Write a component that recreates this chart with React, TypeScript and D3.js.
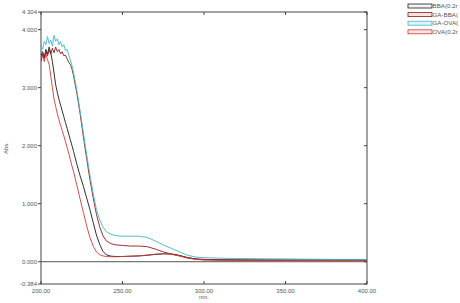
import React from "react";
import * as d3 from "d3";

const wavelengths = [200,201,202,203,204,205,206,207,208,209,210,211,212,213,214,215,216,217,218,219,220,222,224,226,228,230,232,234,236,238,240,243,246,250,255,260,265,270,275,280,285,290,295,300,310,320,340,360,380,400];

const bba = [3.55,3.62,3.52,3.66,3.58,3.70,3.60,3.45,3.25,3.05,2.92,2.80,2.70,2.60,2.50,2.40,2.30,2.20,2.10,2.00,1.90,1.68,1.48,1.30,1.10,0.90,0.68,0.46,0.30,0.18,0.12,0.095,0.09,0.09,0.095,0.10,0.11,0.125,0.135,0.135,0.11,0.07,0.045,0.035,0.03,0.03,0.028,0.028,0.028,0.028];

const gaBba = [3.45,3.58,3.50,3.62,3.55,3.65,3.58,3.68,3.60,3.70,3.62,3.66,3.58,3.62,3.55,3.56,3.50,3.44,3.40,3.32,3.20,2.90,2.55,2.15,1.78,1.42,1.10,0.82,0.60,0.45,0.36,0.31,0.29,0.28,0.27,0.27,0.26,0.22,0.17,0.13,0.10,0.07,0.05,0.04,0.035,0.032,0.03,0.03,0.03,0.03];

const gaOva = [3.72,3.66,3.80,3.74,3.88,3.76,3.82,3.72,3.90,3.80,3.84,3.74,3.80,3.70,3.74,3.64,3.66,3.56,3.48,3.38,3.25,2.95,2.60,2.22,1.85,1.50,1.18,0.90,0.72,0.60,0.52,0.47,0.45,0.44,0.44,0.44,0.42,0.36,0.29,0.23,0.17,0.11,0.08,0.07,0.06,0.055,0.05,0.045,0.04,0.04];

const ova = [3.50,3.55,3.45,3.58,3.48,3.40,3.20,3.00,2.80,2.68,2.55,2.45,2.35,2.26,2.17,2.07,1.97,1.87,1.76,1.65,1.55,1.32,1.08,0.85,0.62,0.42,0.27,0.17,0.12,0.10,0.09,0.085,0.085,0.09,0.095,0.10,0.115,0.13,0.14,0.13,0.10,0.06,0.04,0.03,0.025,0.02,0.02,0.02,0.02,0.02];

const seriesNames = ["BBA(0.2r", "GA-BBA(", "GA-OVA(", "OVA(0.2r"];
const seriesValues = [bba, gaBba, gaOva, ova];
const seriesColors = ["#1a1a1a", "#8b1c1c", "#3fb7c6", "#d03a3a"];
const seriesFills = ["#f4f4f4", "#f6e2e2", "#e2f4f6", "#fbe3e3"];

const yTicks = [4.304, 4.0, 3.0, 2.0, 1.0, 0.0, -0.384];
const xTicks = [200, 250, 300, 350, 400];

export default function App() {
  const W = 460, H = 303;
  const L = 41, R = 367, T = 12, B = 284;
  const x = d3.scaleLinear().domain([200, 400]).range([L, R]);
  const y = d3.scaleLinear().domain([-0.384, 4.304]).range([B, T]);
  const line = d3.line<number>()
    .x((_, i) => x(wavelengths[i]))
    .y((d) => y(d))
    .curve(d3.curveLinear);
  const axisColor = "#444";
  const font = "Liberation Sans, Arial, sans-serif";
  return (
    <svg width={W} height={H} style={{ position: "absolute", left: 0, top: 0, background: "#fff" }}>
      <defs>
        <clipPath id="plot">
          <rect x={L} y={T} width={R - L} height={B - T} />
        </clipPath>
      </defs>
      <rect x={L} y={T} width={R - L} height={B - T} fill="none" stroke={axisColor} strokeWidth={1} />
      <line x1={L} x2={R} y1={y(0)} y2={y(0)} stroke="#555" strokeWidth={1} />
      {yTicks.map((t) => (
        <g key={t}>
          <line x1={L - 3} x2={L} y1={y(t)} y2={y(t)} stroke={axisColor} />
          <line x1={R - 3} x2={R} y1={y(t)} y2={y(t)} stroke={axisColor} />
          <text x={L - 4} y={y(t)} dy="0.35em" textAnchor="end" fontSize={6} fontFamily={font} fill="#555">
            {t.toFixed(3)}
          </text>
        </g>
      ))}
      {xTicks.map((t) => (
        <g key={t}>
          <line x1={x(t)} x2={x(t)} y1={B - 3} y2={B} stroke={axisColor} />
          <line x1={x(t)} x2={x(t)} y1={T} y2={T + 3} stroke={axisColor} />
          <text x={x(t)} y={B + 9} textAnchor="middle" fontSize={6} fontFamily={font} fill="#555">
            {t.toFixed(2)}
          </text>
        </g>
      ))}
      <text x={x(300)} y={B + 15} textAnchor="middle" fontSize={6} fontFamily={font} fill="#555">nm.</text>
      <text transform={`translate(8,${(T + B) / 2}) rotate(-90)`} textAnchor="middle" fontSize={6} fontFamily={font} fill="#555">Abs.</text>
      <g clipPath="url(#plot)">
        {seriesValues.map((vals, i) => (
          <path key={i} d={line(vals) || ""} fill="none" stroke={seriesColors[i]} strokeWidth={0.9} />
        ))}
      </g>
      {seriesNames.map((n, i) => (
        <g key={n}>
          <rect x={408} y={4 + i * 8.6} width={24} height={4} fill={seriesFills[i]} stroke={seriesColors[i]} strokeWidth={0.8} />
          <text x={432.5} y={6 + i * 8.6} dy="0.35em" fontSize={6.2} fontFamily={font} fill="#555">{n}</text>
        </g>
      ))}
    </svg>
  );
}
